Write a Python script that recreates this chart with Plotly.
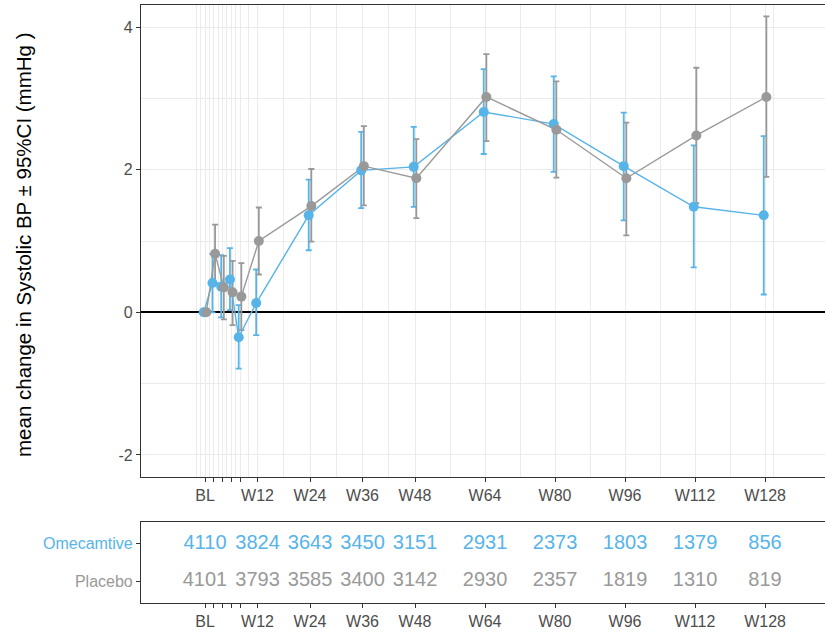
import plotly.graph_objects as go

# ---- data ----
weeks = [0, 2, 4, 6, 8, 12, 24, 36, 48, 64, 80, 96, 112, 128]
tick_labels = ["BL", "", "", "", "", "W12", "W24", "W36", "W48", "W64", "W80", "W96", "W112", "W128"]

ome_mean = [0.00, 0.41, 0.36, 0.46, -0.35, 0.13, 1.36, 1.99, 2.04, 2.81, 2.64, 2.05, 1.48, 1.36]
ome_lo   = [0.00, 0.00, -0.07, 0.03, -0.79, -0.32, 0.87, 1.46, 1.48, 2.22, 1.97, 1.29, 0.63, 0.25]
ome_hi   = [0.00, 0.82, 0.80, 0.90, 0.10, 0.60, 1.86, 2.53, 2.60, 3.41, 3.31, 2.80, 2.34, 2.47]

pbo_mean = [0.00, 0.82, 0.35, 0.28, 0.22, 1.00, 1.49, 2.05, 1.88, 3.02, 2.56, 1.88, 2.48, 3.02]
pbo_lo   = [0.00, 0.41, -0.10, -0.18, -0.25, 0.53, 0.99, 1.50, 1.32, 2.40, 1.89, 1.08, 1.53, 1.90]
pbo_hi   = [0.00, 1.23, 0.79, 0.72, 0.69, 1.47, 2.01, 2.61, 2.43, 3.62, 3.24, 2.66, 3.43, 4.15]

table_weeks = [0, 12, 24, 36, 48, 64, 80, 96, 112, 128]
ome_n = [4110, 3824, 3643, 3450, 3151, 2931, 2373, 1803, 1379, 856]
pbo_n = [4101, 3793, 3585, 3400, 3142, 2930, 2357, 1819, 1310, 819]

groups = ["Omecamtive", "Placebo"]
BLUE = "#56B4E9"
GREY = "#999999"
dodge = 0.3

x_minor = [-2, -1, 1, 3, 5, 7, 10, 18, 30, 42, 56, 72, 88, 104, 120, 130]
y_major = [-2, 0, 2, 4]
y_minor = [-1, 1, 3]

FONT = "Liberation Sans, Arial, sans-serif"
AXIS_TXT = "#4D4D4D"
LINE_C = "#333333"
GRID_C = "#EBEBEB"

series = [
    (groups[0], ome_mean, ome_lo, ome_hi, BLUE, -dodge),
    (groups[1], pbo_mean, pbo_lo, pbo_hi, GREY, dodge),
]

fig = go.Figure()

# error bars (bottom layer)
for name, m, lo, hi, col, dx in series:
    fig.add_trace(go.Scatter(
        x=[w + dx for w in weeks], y=m, mode="markers",
        marker=dict(size=1, color="rgba(0,0,0,0)"),
        error_y=dict(type="data", symmetric=False,
                     array=[h - v for h, v in zip(hi, m)],
                     arrayminus=[v - l for v, l in zip(m, lo)],
                     color=col, thickness=1.8, width=3),
        showlegend=False, hoverinfo="skip", xaxis="x", yaxis="y"))
# lines
for name, m, lo, hi, col, dx in series:
    fig.add_trace(go.Scatter(
        x=[w + dx for w in weeks], y=m, mode="lines",
        line=dict(color=col, width=1.4),
        showlegend=False, hoverinfo="skip", xaxis="x", yaxis="y"))
# points
for name, m, lo, hi, col, dx in series:
    fig.add_trace(go.Scatter(
        x=[w + dx for w in weeks], y=m, mode="markers", name=name,
        marker=dict(color=col, size=10),
        showlegend=False, xaxis="x", yaxis="y"))

# risk table
fig.add_trace(go.Scatter(
    x=table_weeks, y=[2] * len(table_weeks), mode="text",
    text=[str(v) for v in ome_n], textfont=dict(color=BLUE, size=20, family=FONT),
    showlegend=False, hoverinfo="skip", xaxis="x2", yaxis="y2"))
fig.add_trace(go.Scatter(
    x=table_weeks, y=[1] * len(table_weeks), mode="text",
    text=[str(v) for v in pbo_n], textfont=dict(color=GREY, size=20, family=FONT),
    showlegend=False, hoverinfo="skip", xaxis="x2", yaxis="y2"))

xr = [-14.63, 141.7]
xcommon = dict(
    range=xr, tickmode="array", tickvals=weeks, ticktext=tick_labels,
    ticks="outside", ticklen=4, tickwidth=1.1, tickcolor=LINE_C,
    tickfont=dict(size=16, color=AXIS_TXT, family=FONT),
    showline=True, mirror=True, linecolor=LINE_C, linewidth=1.1,
    zeroline=False,
)

fig.update_layout(
    width=825, height=633,
    margin=dict(l=141, r=0, t=5, b=30),
    paper_bgcolor="white", plot_bgcolor="white",
    font=dict(family=FONT),
    showlegend=False,
    xaxis=dict(**xcommon, domain=[0, 1], anchor="y",
               showgrid=True, gridcolor=GRID_C, gridwidth=1.1,
               minor=dict(tickmode="array", tickvals=x_minor, showgrid=True,
                          gridcolor=GRID_C, gridwidth=0.8, ticks="")),
    yaxis=dict(domain=[0.2107, 1.0], anchor="x", range=[-2.31, 4.31],
               tickmode="array", tickvals=y_major, ticktext=["-2", "0", "2", "4"],
               ticks="outside", ticklen=4, tickwidth=1.1, tickcolor=LINE_C,
               tickfont=dict(size=16, color=AXIS_TXT, family=FONT),
               showline=True, mirror=True, linecolor=LINE_C, linewidth=1.1,
               showgrid=True, gridcolor=GRID_C, gridwidth=1.1,
               minor=dict(tickmode="array", tickvals=y_minor, showgrid=True,
                          gridcolor=GRID_C, gridwidth=0.8, ticks=""),
               zeroline=True, zerolinecolor="black", zerolinewidth=1.5),
    xaxis2=dict(**xcommon, domain=[0, 1], anchor="y2", showgrid=False),
    yaxis2=dict(domain=[0, 0.1355], anchor="x2", range=[0.42, 2.58],
                tickmode="array", tickvals=[2, 1],
                ticktext=['<span style="color:%s">%s</span>' % (BLUE, groups[0]),
                          '<span style="color:%s">%s</span>' % (GREY, groups[1])],
                ticks="outside", ticklen=4, tickwidth=1.1, tickcolor=LINE_C,
                tickfont=dict(size=16, family=FONT),
                showline=True, mirror=True, linecolor=LINE_C, linewidth=1.1,
                showgrid=False, zeroline=False),
    annotations=[dict(
        text="mean change in Systolic BP ± 95%CI (mmHg )",
        xref="paper", yref="paper", x=(24 - 141) / 684, y=0.5987,
        xanchor="center", yanchor="middle", textangle=-90, showarrow=False,
        font=dict(size=20.5, color="black", family=FONT))],
)

fig.write_html("out.html", config={"displayModeBar": False})
